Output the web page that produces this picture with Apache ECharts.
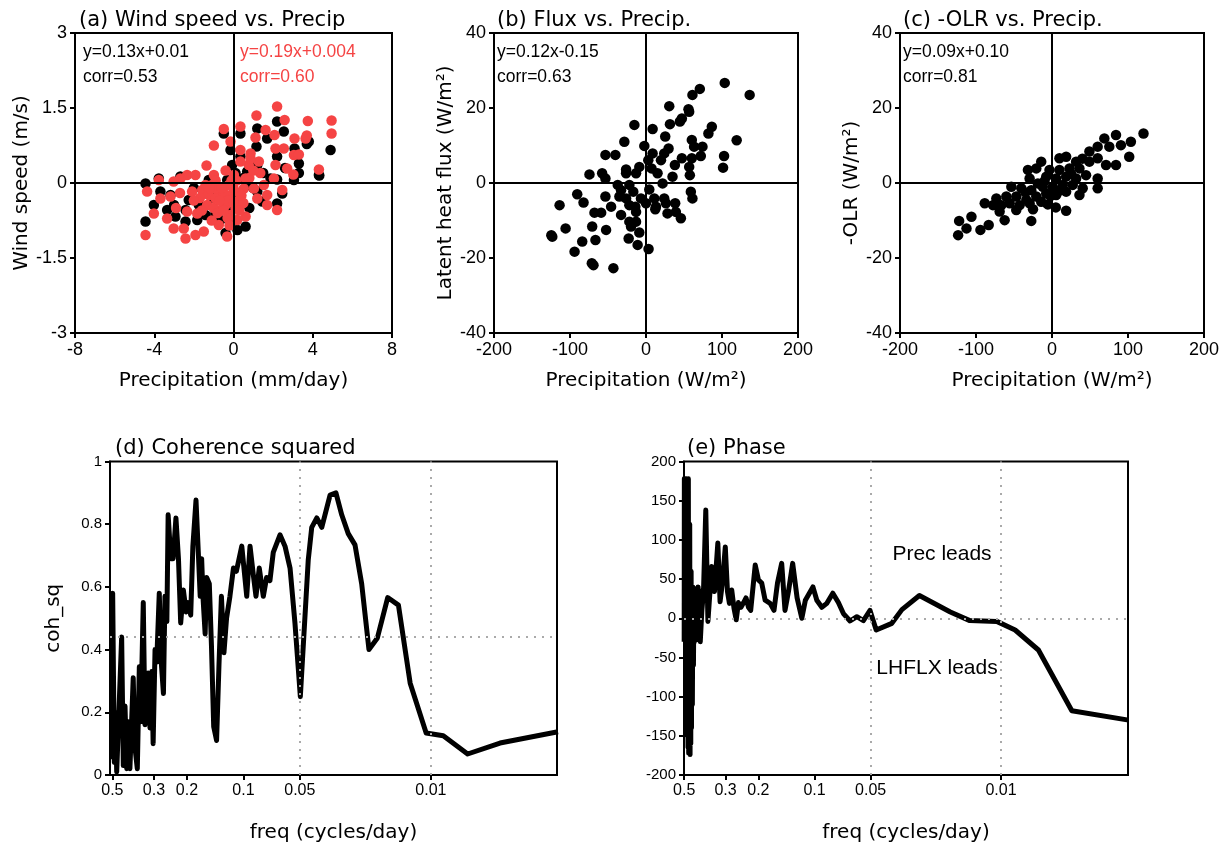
<!DOCTYPE html>
<html>
<head>
<meta charset="utf-8">
<script src="https://cdn.jsdelivr.net/npm/echarts@6/dist/echarts.min.js"></script>
<style>
  html, body { margin: 0; background: #fff; }
  #chart { width: 1223px; height: 846px; }
</style>
</head>
<body>
<div id="chart"></div>
<script>
const FONT = 'DejaVu Sans';
const NUMFONT = 'Liberation Sans';
const RED = '#f54444';

// (a) wind speed anomaly vs precip (mm/day, m/s)
const windBlack = [[4.9,0.66],[4.31,0.16],[3.05,0.06],[3.3,0.39],[3.08,0.69],[3.8,0.83],[3.7,0.78],[2.54,1.03],[2.2,1.23],[1.2,1.09],[1.7,0.89],[1.16,0.73],[0.35,0.99],[-0.49,0.99],[-0.15,0.66],[-0.07,0.36],[0.35,0.53],[2.2,0.53],[2.2,-0.41],[2.46,-0.21],[0.61,-0.87],[-0.15,-0.81],[-0.66,-0.74],[-1.83,-0.74],[-2.42,-0.77],[-2.93,-0.67],[-3.35,-0.54],[-4.02,-0.44],[-4.44,-0.77],[-4.44,-0.01],[-3.69,-0.17],[-3.77,0.09],[-2.68,0.13],[-2.26,-0.34],[-2.42,-0.54],[-1.41,-0.64],[-1.75,-0.44],[0.69,-0.04],[1.2,-0.17],[2.2,0.07],[-0.32,0.06],[-3.0,-0.44],[-3.18,-0.24],[0.69,0.23],[1.2,0.36],[1.87,0.09],[-0.66,-0.17],[-1.25,0.06],[1.45,-0.37],[-0.91,-0.61],[0.2,-0.94],[-0.4,-1.0],[0.2,-0.2],[-0.5,-0.3],[0.5,0.1],[-1.0,-0.3],[1.0,-0.1],[-0.2,-0.5],[0.8,-0.5],[-1.5,-0.2],[1.5,0.2],[2.6,0.3],[3.3,0.2],[-2.0,-0.1],[0.1,0.2],[4.33,0.15]];
const windRed = [[2.2,1.53],[1.16,1.35],[2.58,1.26],[3.75,1.24],[4.95,1.25],[0.35,1.13],[-0.49,1.08],[1.62,1.06],[2.07,0.96],[3.08,0.89],[3.64,0.89],[4.95,0.99],[1.11,0.91],[-0.99,0.75],[-0.15,0.83],[0.35,0.66],[0.86,0.59],[1.28,0.43],[2.12,0.69],[2.54,0.69],[3.05,0.56],[3.3,0.57],[3.7,0.95],[2.12,0.36],[2.71,0.29],[3.02,0.17],[4.31,0.27],[-1.36,0.35],[0.02,0.16],[0.77,0.36],[2.04,0.09],[-2.34,0.16],[-1.92,0.16],[-2.68,0.09],[-0.99,0.16],[-3.77,0.06],[-4.36,-0.17],[-3.69,-0.31],[-3.18,-0.27],[-4.02,-0.61],[-3.35,-0.71],[-3.02,-0.91],[-2.51,-0.91],[-2.42,-1.11],[-4.44,-1.04],[-1.92,-1.04],[-1.5,-0.97],[-2.34,-0.57],[-1.83,-0.61],[-2.09,-0.17],[-1.58,-0.14],[-1.25,-0.24],[-1.08,-0.04],[-0.82,-0.14],[-0.66,-0.31],[-0.4,-0.44],[-0.66,-0.54],[-0.15,-0.24],[-0.24,-0.04],[-0.74,-0.84],[-0.32,-1.07],[0.19,-0.74],[0.61,-0.67],[-0.15,-0.64],[-1.33,-0.44],[0.52,-0.11],[1.03,-0.11],[1.2,-0.31],[1.7,-0.44],[1.7,-0.24],[2.2,-0.54],[2.46,-0.14],[1.53,-0.04],[0.61,0.09],[0.86,0.49],[0.35,0.43],[-3.02,0.03],[-1.41,-0.04],[0.19,-0.37],[-0.91,-0.31],[-0.5,-0.2],[0.0,-0.1],[-0.3,-0.35],[0.3,-0.2],[-1.0,-0.5],[-0.6,-0.1],[0.1,-0.5],[-1.7,-0.3],[1.35,0.2],[0.5,-0.4],[-0.8,-0.6],[-0.3,-0.7],[0.0,-0.4],[-0.5,-0.55],[-1.2,-0.1],[-0.9,0.05],[0.4,-0.25],[-0.1,0.05],[-0.7,-0.35],[-0.2,-0.85],[0.3,-0.55],[-1.6,-0.55],[-2.0,-0.35],[-2.7,-0.2],[-2.9,-0.5],[-1.1,-0.75],[0.15,0.05],[0.8,0.1],[1.0,0.25],[-0.4,0.25]];

// (b) latent heat flux vs precip (W/m2)
const fluxPrecip = [[103.6,26.7],[136.4,23.5],[70.8,25.1],[61.1,23.5],[30.6,20.5],[56.8,19.0],[47.2,17.2],[44.6,16.4],[31.5,15.7],[-15.3,15.5],[8.7,14.4],[86.6,15.0],[82.1,13.2],[119.3,11.4],[25.3,12.4],[-28.5,11.0],[-2.2,9.9],[60.3,11.5],[63.3,9.7],[74.3,9.7],[29.7,9.2],[-53.4,7.5],[-40.3,7.5],[8.7,7.9],[24.0,7.9],[72.1,7.2],[102.7,7.2],[47.2,6.6],[60.3,6.6],[19.7,6.1],[3.0,6.1],[38.0,4.8],[56.8,4.3],[101.4,4.1],[-8.8,4.3],[-26.2,3.6],[7.3,3.9],[-74.4,2.3],[-57.7,2.6],[-53.4,1.2],[-26.2,2.6],[-13.1,2.6],[15.2,2.6],[34.9,1.7],[57.7,2.1],[21.8,-0.1],[-37.2,-0.5],[-21.9,-0.5],[-32.8,-1.9],[-16.7,-2.3],[4.3,-1.7],[-90.5,-3.0],[-53.4,-3.6],[-35.0,-3.6],[-26.2,-4.1],[-6.6,-4.1],[10.9,-4.1],[24.0,-4.1],[59.0,-2.3],[61.1,-4.1],[-82.2,-5.2],[-113.7,-5.9],[-45.9,-6.3],[-21.9,-5.9],[-14.0,-6.3],[0,-5.4],[13.1,-6.3],[26.2,-5.4],[38.4,-5.4],[-67.8,-7.9],[-59.0,-7.9],[-32.8,-8.5],[-13.1,-7.7],[12.2,-7.0],[28.3,-8.1],[39.3,-7.7],[45.9,-9.4],[-21.9,-10.3],[-13.1,-10.3],[-105.8,-12.1],[-70.8,-11.6],[-52.5,-12.5],[-19.7,-11.6],[-8.8,-13.2],[-124.6,-13.9],[-123.3,-14.3],[-22.8,-14.8],[-83.9,-15.6],[-66.5,-15.2],[-11.0,-16.5],[3.4,-17.6],[-94.0,-18.3],[-71.3,-21.4],[-69.1,-21.9],[-42.9,-22.7],[55.9,19.7]];

// (c) -OLR vs precip (W/m2)
const olrPrecip = [[120.4,13.2],[103.8,11.0],[84.2,12.8],[68.9,11.9],[75.4,9.7],[60.1,9.7],[90.7,10.1],[49.2,8.4],[101.6,7.0],[84.2,4.8],[71.1,4.8],[60.1,6.6],[49.2,5.7],[31.7,5.7],[18.6,7.0],[9.8,6.6],[-14.2,5.7],[-31.7,3.5],[-20.7,3.9],[-3.3,3.5],[9.8,3.5],[23.0,3.9],[36.1,3.9],[44.8,2.1],[60.1,1.2],[31.7,1.2],[18.6,1.7],[5.5,1.2],[-7.6,1.7],[-29.5,1.2],[-18.6,-0.1],[-53.5,-1.0],[-40.4,-1.4],[-27.3,-1.9],[-12.1,-1.0],[1.0,-1.0],[14.2,-0.5],[27.3,-0.5],[40.4,-1.4],[60.1,-1.4],[36.1,-3.2],[18.6,-2.3],[5.5,-3.2],[-7.6,-2.8],[-20.7,-3.6],[-33.8,-4.5],[-47.0,-3.6],[-60.1,-3.6],[-73.2,-4.1],[-88.5,-5.4],[-77.6,-5.9],[-66.6,-5.9],[-55.7,-5.4],[-42.6,-5.9],[-29.5,-5.4],[-14.2,-5.0],[-5.5,-5.7],[-68.9,-7.6],[-62.3,-9.9],[-47.0,-7.2],[-27.3,-10.1],[18.6,-7.4],[-106.0,-9.0],[-122.2,-10.1],[-112.5,-12.1],[-83.3,-11.2],[-94.2,-12.5],[-123.5,-13.9],[-10,0.5],[10,-2],[-35,-2.5],[25,2.5],[-2,-3.5],[-25,-7],[5,-6.5],[40,6.5]];

// (d) coherence squared vs frequency (cycles/day)
const cohFreq = [0.505,0.498,0.488,0.481,0.474,0.446,0.437,0.428,0.419,0.411,0.403,0.387,0.379,0.368,0.359,0.353,0.342,0.335,0.322,0.315,0.308,0.303,0.296,0.290,0.281,0.275,0.267,0.262,0.256,0.252,0.244,0.237,0.229,0.222,0.216,0.209,0.202,0.197,0.191,0.186,0.179,0.174,0.170,0.167,0.164,0.160,0.157,0.152,0.148,0.144,0.139,0.135,0.131,0.127,0.123,0.118,0.113,0.109,0.102,0.0960,0.0922,0.0886,0.0857,0.0823,0.0783,0.0752,0.0722,0.0693,0.0638,0.0600,0.0564,0.0531,0.0497,0.0451,0.0432,0.0406,0.0382,0.0345,0.0321,0.0299,0.0276,0.0254,0.0234,0.0214,0.0193,0.0170,0.0149,0.0129,0.0106,0.00859,0.00637,0.00428,0.00210];
const cohSq = [0.05,0.58,0.04,0.20,0.01,0.44,0.03,0.22,0.02,0.17,0.02,0.31,0.09,0.02,0.345,0.17,0.55,0.16,0.325,0.15,0.33,0.10,0.40,0.36,0.58,0.37,0.26,0.57,0.49,0.83,0.69,0.69,0.82,0.69,0.485,0.59,0.52,0.55,0.51,0.73,0.877,0.71,0.57,0.69,0.56,0.45,0.63,0.61,0.41,0.154,0.11,0.35,0.57,0.39,0.50,0.57,0.66,0.65,0.73,0.57,0.73,0.64,0.57,0.66,0.57,0.63,0.62,0.71,0.766,0.73,0.66,0.485,0.25,0.686,0.79,0.82,0.79,0.893,0.90,0.83,0.77,0.734,0.61,0.40,0.437,0.566,0.542,0.293,0.134,0.125,0.067,0.102,0.138];

// (e) phase (degrees) vs frequency
const phaseFreq = [0.500,0.499,0.497,0.495,0.493,0.491,0.489,0.487,0.485,0.483,0.481,0.479,0.477,0.475,0.473,0.471,0.469,0.467,0.465,0.463,0.461,0.459,0.457,0.455,0.452,0.449,0.446,0.443,0.440,0.437,0.433,0.429,0.425,0.421,0.417,0.413,0.410,0.402,0.394,0.383,0.373,0.366,0.356,0.344,0.330,0.321,0.312,0.301,0.293,0.286,0.278,0.270,0.263,0.256,0.248,0.240,0.233,0.226,0.220,0.208,0.200,0.192,0.184,0.173,0.165,0.158,0.150,0.144,0.138,0.131,0.124,0.117,0.112,0.102,0.0972,0.0914,0.0859,0.0798,0.0745,0.0700,0.0645,0.0593,0.0547,0.0504,0.0467,0.0385,0.0340,0.0274,0.0187,0.0147,0.01054,0.0084,0.0063,0.00417,0.00207];
const phaseDeg = [-30,178,-20,176,-28,170,10,178,-40,175,-150,160,-165,178,-172,40,-168,120,-174,30,-160,60,-140,20,-110,40,-60,38,-30,35,-28,38,-25,40,-20,35,-30,10,34,138,-4,-6,66,34,96,21,45,91,34,19,36,12,-2,20,14,20,26,14,10,68,49,45,23,19,10,45,70,10,34,70,26,0,23,40,23,14,19,32,20,6,-3.5,2,-3,10,-15,-6.5,11,29,8,-3,-4,-15,-40.5,-118,-130];

const freqTicks = [0.5, 0.3, 0.2, 0.1, 0.05, 0.01];
const cohSig = 0.44;

// frequency axis is logarithmic and decreasing to the right
const lf = f => -Math.log10(f);

const axisBase = {
  axisLine: { show: true, onZero: false, lineStyle: { color: '#000', width: 2 } },
  axisTick: { show: true, length: 5, lineStyle: { color: '#000', width: 2 } },
  splitLine: { show: false },
  nameTextStyle: { color: '#000', fontFamily: FONT, fontSize: 20 },
  nameLocation: 'middle'
};

function valAxis(idx, min, max, interval, name, gap, fs) {
  return Object.assign({}, axisBase, {
    type: 'value', gridIndex: idx, min: min, max: max, interval: interval,
    name: name, nameGap: gap,
    axisLabel: { color: '#000', fontFamily: NUMFONT, fontSize: fs }
  });
}

function freqAxis(idx, min, max) {
  const vals = freqTicks.map(lf);
  return Object.assign({}, axisBase, {
    type: 'value', gridIndex: idx, min: min, max: max,
    name: 'freq (cycles/day)', nameGap: 48,
    axisTick: Object.assign({}, axisBase.axisTick, { customValues: vals }),
    axisLabel: {
      color: '#000', fontFamily: NUMFONT, fontSize: 16, customValues: vals,
      formatter: v => {
        const f = freqTicks.find(t => Math.abs(lf(t) - v) < 1e-6);
        return f === undefined ? '' : String(f);
      }
    }
  });
}

const crossLines = {
  silent: true, symbol: ['none', 'none'], label: { show: false },
  lineStyle: { color: '#000', width: 2, type: 'solid' },
  data: [{ xAxis: 0 }, { yAxis: 0 }]
};

function dotted(items) {
  return {
    silent: true, symbol: ['none', 'none'], label: { show: false },
    lineStyle: { color: '#aaa', width: 2, type: [2, 6] },
    data: items
  };
}

function titleAt(text, left, top) {
  return { text: text, left: left, top: top,
    textStyle: { fontFamily: FONT, fontSize: 21, fontWeight: 'normal', color: '#000' } };
}

function label(text, x, y, color, size, align, font) {
  return { type: 'text', x: x, y: y, silent: true,
    style: { text: text, fill: color, fontFamily: font || NUMFONT, fontSize: size,
      align: align || 'left', verticalAlign: 'middle' } };
}

const chart = echarts.init(document.getElementById('chart'));
const gridStyle = { show: true, borderColor: '#000', borderWidth: 2, backgroundColor: 'transparent' };

const option = {
  animation: false,
  title: [
    titleAt('(a) Wind speed vs. Precip', 74, 5),
    titleAt('(b) Flux vs. Precip.', 492, 5),
    titleAt('(c) -OLR vs. Precip.', 898, 5),
    titleAt('(d) Coherence squared', 110, 433),
    titleAt('(e) Phase', 682, 433)
  ],
  grid: [
    Object.assign({ left: 75, top: 33, width: 317, height: 300 }, gridStyle),
    Object.assign({ left: 494, top: 33, width: 304, height: 300 }, gridStyle),
    Object.assign({ left: 900, top: 33, width: 304, height: 300 }, gridStyle),
    Object.assign({ left: 110, top: 461.5, width: 447, height: 313.5 }, gridStyle),
    Object.assign({ left: 684, top: 461.5, width: 444, height: 313.5 }, gridStyle)
  ],
  xAxis: [
    valAxis(0, -8, 8, 4, 'Precipitation (mm/day)', 38, 18),
    valAxis(1, -200, 200, 100, 'Precipitation (W/m\u00b2)', 38, 18),
    valAxis(2, -200, 200, 100, 'Precipitation (W/m\u00b2)', 38, 18),
    freqAxis(3, 0.2885, 2.6725),
    freqAxis(4, 0.3, 2.681)
  ],
  yAxis: [
    valAxis(0, -3, 3, 1.5, 'Wind speed (m/s)', 42, 18),
    valAxis(1, -40, 40, 20, 'Latent heat flux (W/m\u00b2)', 38, 18),
    valAxis(2, -40, 40, 20, '-OLR (W/m\u00b2)', 38, 18),
    valAxis(3, 0, 1, 0.2, 'coh_sq', 46, 15),
    valAxis(4, -200, 200, 50, '', 40, 15)
  ],
  series: [
    { type: 'scatter', xAxisIndex: 0, yAxisIndex: 0, symbolSize: 10.5,
      itemStyle: { color: '#000', opacity: 1 }, data: windBlack },
    { type: 'scatter', xAxisIndex: 0, yAxisIndex: 0, symbolSize: 10.5,
      itemStyle: { color: RED, opacity: 1 }, data: windRed, markLine: crossLines },
    { type: 'scatter', xAxisIndex: 1, yAxisIndex: 1, symbolSize: 10.5,
      itemStyle: { color: '#000', opacity: 1 }, data: fluxPrecip, markLine: crossLines },
    { type: 'scatter', xAxisIndex: 2, yAxisIndex: 2, symbolSize: 10.5,
      itemStyle: { color: '#000', opacity: 1 }, data: olrPrecip, markLine: crossLines },
    { type: 'line', xAxisIndex: 3, yAxisIndex: 3, showSymbol: false,
      lineStyle: { color: '#000', width: 5, join: 'round' },
      data: cohFreq.map((f, i) => [lf(f), cohSq[i]]),
      markLine: dotted([{ xAxis: lf(0.05) }, { xAxis: lf(0.01) }, { yAxis: cohSig }]) },
    { type: 'line', xAxisIndex: 4, yAxisIndex: 4, showSymbol: false,
      lineStyle: { color: '#000', width: 5, join: 'round' },
      data: phaseFreq.map((f, i) => [lf(f), phaseDeg[i]]),
      markLine: dotted([{ xAxis: lf(0.05) }, { xAxis: lf(0.01) }, { yAxis: 0 }]) }
  ],
  graphic: [
    label('y=0.13x+0.01', 83, 52, '#000', 17.5),
    label('corr=0.53', 83, 77, '#000', 17.5),
    label('y=0.19x+0.004', 240, 52, RED, 17.5),
    label('corr=0.60', 240, 77, RED, 17.5),
    label('y=0.12x-0.15', 497, 52, '#000', 17.5),
    label('corr=0.63', 497, 77, '#000', 17.5),
    label('y=0.09x+0.10', 903, 52, '#000', 17.5),
    label('corr=0.81', 903, 77, '#000', 17.5),
    label('Prec leads', 942, 554, '#000', 21, 'center'),
    label('LHFLX leads', 937, 668, '#000', 21, 'center')
  ]
};

chart.setOption(option);
</script>
</body>
</html>
